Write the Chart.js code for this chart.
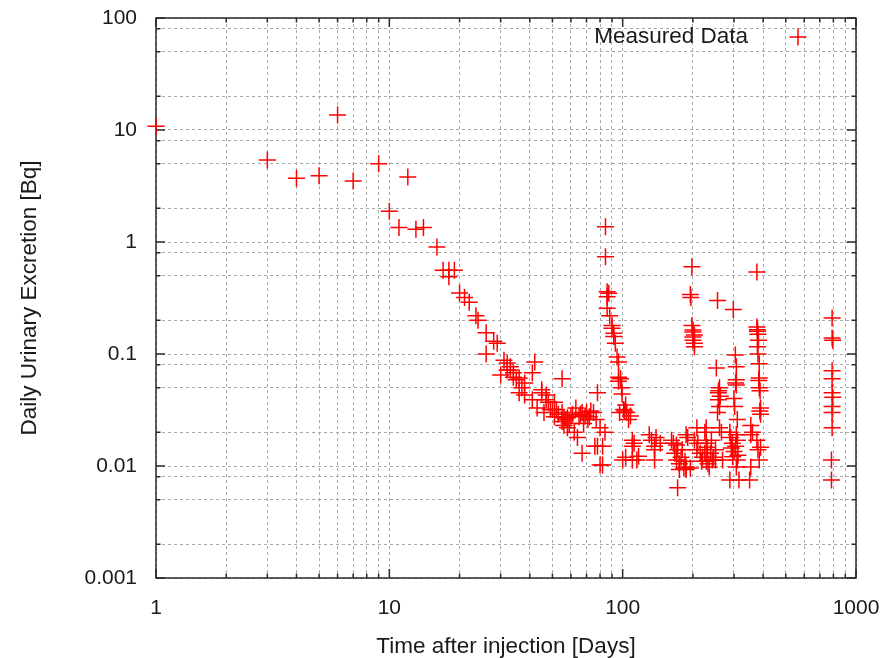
<!DOCTYPE html>
<html>
<head>
<meta charset="utf-8">
<title>Daily Urinary Excretion</title>
<script src="https://cdn.jsdelivr.net/npm/chart.js@4/dist/chart.umd.min.js"></script>
<style>
  html, body { margin: 0; padding: 0; background: #fff; }
  #wrap { width: 881px; height: 658px; }
</style>
</head>
<body>
<div id="wrap"><canvas id="myChart" width="881" height="658"></canvas></div>
<script>
// measured points (days after injection / Bq per day)
const days = [
  1, 3, 4, 5, 6, 7, 9, 10, 11, 12, 13, 14, 16, 17, 18, 18, 19, 20, 21, 22,
  23.5, 24, 26, 26, 28, 29, 30, 31, 32, 32, 33, 33, 34, 34, 35, 36, 36, 37, 38, 38,
  41, 41, 42, 43, 45, 45, 46, 47, 47, 48, 49, 50, 51, 51, 52, 53, 55, 55, 55, 56,
  56, 57, 58, 58, 59, 60, 61, 62, 63, 64, 65, 66, 67, 67, 68, 69, 70, 71, 72, 73,
  75, 76, 77, 78, 78, 80, 80, 82, 84, 82,
  84.4, 84.4, 85.8, 87.2, 85.8, 85.8, 88, 90, 90, 91.6, 91.6, 93, 94.6, 96, 96, 96, 98, 99, 99.4, 101,
  102, 103, 104, 106, 97, 108, 110, 110, 110, 112, 100, 115, 117, 103, 130, 133, 137, 137, 139, 145,
  137,
  162, 165, 167, 170, 170, 172, 172, 175, 175, 178, 180, 183, 185, 187, 190, 195, 203, 208, 208, 210,
  215, 218, 220, 225, 225, 228, 231, 232, 235, 238, 240, 242, 245, 250,
  187, 187, 228, 228, 268, 250,
  198, 195, 196, 198, 200, 200, 203, 200, 200, 203, 203,
  255, 298, 252, 260, 257, 258, 262, 257, 260, 255, 260, 265, 304, 307, 307, 305, 307, 302, 300, 310,
  288, 290, 292, 295, 296, 300, 305, 310, 310, 312, 288, 315, 350, 307, 307,
  354, 360, 376, 380, 385, 390, 376, 376, 378, 378, 380, 382, 378, 380, 385, 385, 383, 385, 388, 390,
  390, 387, 354, 354,
  790, 790, 795, 790, 790, 790, 795, 790, 790, 790, 785, 785
];

const excretion = [
  10.8, 5.4, 3.7, 3.9, 13.6, 3.5, 5.0, 1.88, 1.35, 3.8, 1.3, 1.35, 0.9, 0.56, 0.56, 0.49, 0.56, 0.35, 0.32, 0.29,
  0.22, 0.2, 0.155, 0.1, 0.13, 0.125, 0.065, 0.088, 0.072, 0.083, 0.072, 0.077, 0.068, 0.062, 0.059, 0.061, 0.045, 0.05, 0.055, 0.043,
  0.068, 0.039, 0.085, 0.033, 0.048, 0.045, 0.030, 0.043, 0.039, 0.037, 0.032, 0.032, 0.037, 0.0275, 0.032, 0.029, 0.06, 0.03, 0.025, 0.027,
  0.023, 0.026, 0.027, 0.022, 0.024, 0.028, 0.029, 0.020, 0.033, 0.018, 0.0275, 0.029, 0.03, 0.013, 0.024, 0.028, 0.030, 0.026, 0.0275, 0.031,
  0.03, 0.015, 0.026, 0.045, 0.015, 0.022, 0.0102, 0.0102, 0.020, 0.015,
  1.37, 0.74, 0.36, 0.348, 0.325, 0.256, 0.22, 0.18, 0.17, 0.153, 0.143, 0.125, 0.094, 0.085, 0.062, 0.057, 0.06, 0.05, 0.044, 0.032,
  0.031, 0.035, 0.03, 0.026, 0.03, 0.028, 0.017, 0.015, 0.0113, 0.016, 0.0113, 0.0113, 0.0122, 0.012, 0.019, 0.017, 0.015, 0.0113, 0.018, 0.016,
  0.014,
  0.017, 0.016, 0.013, 0.0154, 0.0113, 0.014, 0.0064, 0.0105, 0.0093, 0.012, 0.014, 0.0096, 0.011, 0.0098, 0.018, 0.0096, 0.017, 0.022, 0.014, 0.016,
  0.013, 0.011, 0.012, 0.020, 0.013, 0.011, 0.0147, 0.0105, 0.0098, 0.013, 0.017, 0.0113, 0.012, 0.014,
  0.019, 0.0093, 0.022, 0.016, 0.0113, 0.0113,
  0.6, 0.34, 0.32, 0.18, 0.164, 0.157, 0.148, 0.142, 0.133, 0.125, 0.116,
  0.3, 0.25, 0.075, 0.05, 0.045, 0.047, 0.042, 0.039, 0.034, 0.030, 0.022, 0.020, 0.098, 0.077, 0.059, 0.055, 0.053, 0.034, 0.040, 0.026,
  0.020, 0.018, 0.0145, 0.016, 0.0121, 0.0135, 0.015, 0.017, 0.0113, 0.0125, 0.0075, 0.0075, 0.0075, 0.019, 0.0098,
  0.023, 0.02, 0.017, 0.014, 0.0113, 0.0147, 0.54, 0.174, 0.165, 0.16, 0.15, 0.133, 0.116, 0.1, 0.082, 0.061, 0.058, 0.05, 0.047, 0.033,
  0.029, 0.031, 0.019, 0.0098,
  0.21, 0.139, 0.133, 0.071, 0.06, 0.045, 0.041, 0.034, 0.030, 0.022, 0.0113, 0.0075
];

// gridlines: every integer multiple on x, 2/5/8 on y
const xTicks = [
  1, 2, 3, 4, 5, 6, 7, 8, 9,
  10, 20, 30, 40, 50, 60, 70, 80, 90,
  100, 200, 300, 400, 500, 600, 700, 800, 900, 1000
];
const yTicks = [
  0.001, 0.002, 0.005, 0.008, 0.01, 0.02, 0.05, 0.08, 0.1, 0.2, 0.5, 0.8,
  1, 2, 5, 8, 10, 20, 50, 80, 100
];

const seriesLabel = 'Measured Data';
const xTitle = 'Time after injection [Days]';
const yTitle = 'Daily Urinary Excretion [Bq]';

const isDecade = v => Math.abs(Math.log10(v) - Math.round(Math.log10(v))) < 1e-9;

const FONT = '"Liberation Sans", Arial, Helvetica, sans-serif';
const RED = '#ff0000';

// box round the plot with inward tick marks on every side
const frame = {
  id: 'frame',
  beforeDatasetsDraw(chart) {
    const { ctx, chartArea: a, scales: { x, y } } = chart;
    ctx.save();
    ctx.strokeStyle = '#2a2a2a';
    ctx.lineWidth = 1.5;
    ctx.strokeRect(a.left, a.top, a.right - a.left, a.bottom - a.top);
    ctx.beginPath();
    xTicks.forEach(v => {
      const px = x.getPixelForValue(v);
      const len = isDecade(v) ? 9 : 4.5;
      ctx.moveTo(px, a.bottom);
      ctx.lineTo(px, a.bottom - len);
      ctx.moveTo(px, a.top);
      ctx.lineTo(px, a.top + len);
    });
    yTicks.forEach(v => {
      const py = y.getPixelForValue(v);
      const len = isDecade(v) ? 9 : 4.5;
      ctx.moveTo(a.left, py);
      ctx.lineTo(a.left + len, py);
      ctx.moveTo(a.right, py);
      ctx.lineTo(a.right - len, py);
    });
    ctx.stroke();
    ctx.restore();
  }
};

// gnuplot style key: text first, sample to the right
const key = {
  id: 'key',
  afterDraw(chart) {
    const { ctx, chartArea: a } = chart;
    const ky = a.top + 19;
    ctx.save();
    ctx.font = `22.5px ${FONT}`;
    ctx.fillStyle = '#1a1a1a';
    ctx.textAlign = 'right';
    ctx.textBaseline = 'middle';
    ctx.fillText(seriesLabel, a.right - 108, ky);
    const kx = a.right - 58;
    ctx.strokeStyle = RED;
    ctx.lineWidth = 1.5;
    ctx.beginPath();
    ctx.moveTo(kx - 8.5, ky);
    ctx.lineTo(kx + 8.5, ky);
    ctx.moveTo(kx, ky - 8.5);
    ctx.lineTo(kx, ky + 8.5);
    ctx.stroke();
    ctx.restore();
  }
};

const onLoad = () => {
  Chart.defaults.font.family = FONT;
  Chart.defaults.font.size = 21;
  Chart.defaults.color = '#1a1a1a';

  const ctx = document.getElementById('myChart').getContext('2d');
  new Chart(ctx, {
    type: 'scatter',
    data: {
      datasets: [{
        label: seriesLabel,
        data: days.map((d, i) => ({ x: d, y: excretion[i] })),
        pointStyle: 'cross',
        pointRadius: 8.5,
        pointHoverRadius: 8.5,
        pointBorderColor: RED,
        pointBackgroundColor: RED,
        pointBorderWidth: 1.5,
        clip: false
      }]
    },
    options: {
      responsive: false,
      animation: false,
      devicePixelRatio: 1,
      layout: { padding: { top: 18, right: 25, left: 0, bottom: 0 } },
      plugins: {
        legend: { display: false },
        tooltip: { enabled: false }
      },
      scales: {
        x: {
          type: 'logarithmic',
          min: 1,
          max: 1000,
          afterBuildTicks: scale => { scale.ticks = xTicks.map(value => ({ value })); },
          afterFit: scale => {
            scale.height = 80;
            scale.paddingLeft = 0;
            scale.paddingRight = 0;
          },
          ticks: {
            autoSkip: false,
            maxRotation: 0,
            padding: 18,
            callback: v => (isDecade(v) ? String(v) : '')
          },
          grid: { color: '#a8a8a8', lineWidth: 1, drawTicks: false },
          border: { display: false, dash: [3, 3] },
          title: {
            display: true,
            text: xTitle,
            font: { size: 22.5, lineHeight: 1 },
            padding: { top: 0, bottom: 0 }
          }
        },
        y: {
          type: 'logarithmic',
          min: 0.001,
          max: 100,
          afterBuildTicks: scale => { scale.ticks = yTicks.map(value => ({ value })); },
          afterFit: scale => {
            scale.width = 156;
            scale.paddingTop = 0;
            scale.paddingBottom = 0;
          },
          ticks: {
            autoSkip: false,
            padding: 19,
            callback: v => (isDecade(v) ? String(v) : '')
          },
          grid: { color: '#a8a8a8', lineWidth: 1, drawTicks: false },
          border: { display: false, dash: [3, 3] },
          title: {
            display: true,
            text: yTitle,
            font: { size: 22.5, lineHeight: 1 },
            padding: { top: 19, bottom: 0 }
          }
        }
      }
    },
    plugins: [frame, key]
  });
};

window.onload = onLoad;
</script>
</body>
</html>
